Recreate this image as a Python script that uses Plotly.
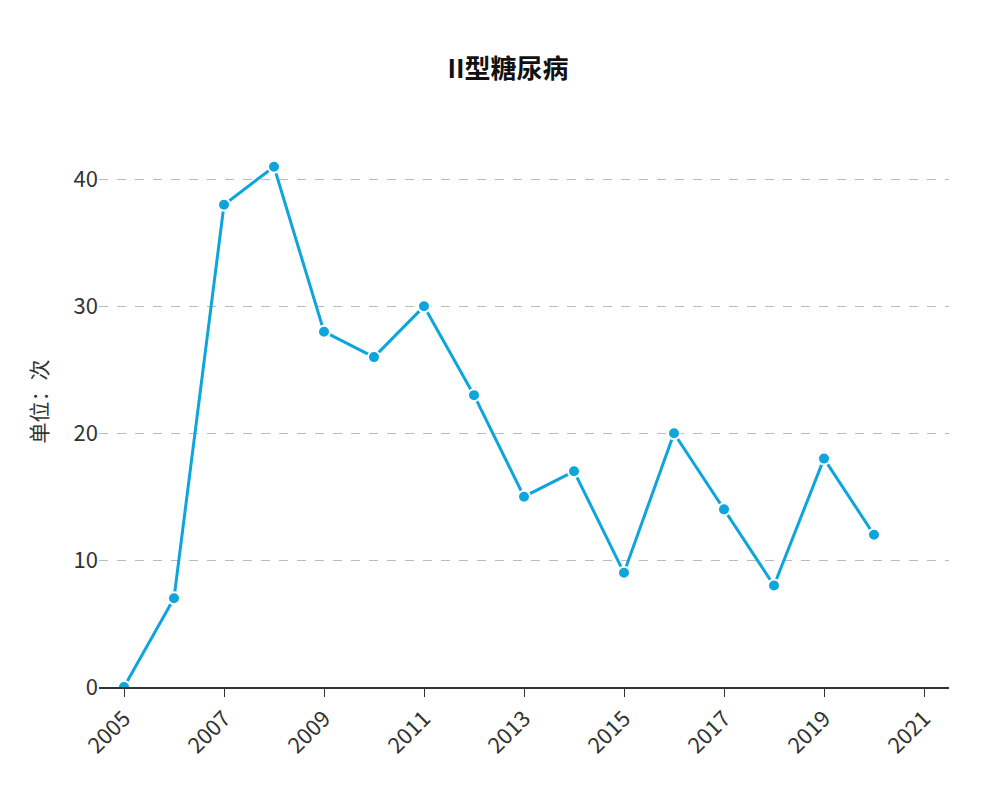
import plotly.graph_objects as go

years = list(range(2005, 2021))
values = [0, 7, 38, 41, 28, 26, 30, 23, 15, 17, 9, 20, 14, 8, 18, 12]
tick_vals = [2005, 2007, 2009, 2011, 2013, 2015, 2017, 2019, 2021]

fig = go.Figure(go.Scatter(
    x=years, y=values, mode="lines+markers",
    line=dict(color="#0ea5dc", width=3),
    marker=dict(size=12, color="#0ea5dc", line=dict(color="white", width=2)),
))
fig.update_layout(
    width=1000, height=800, plot_bgcolor="white", paper_bgcolor="white",
    font=dict(family="Noto Sans CJK SC", size=22, color="#333"),
    title=dict(text="<b>II型糖尿病</b>", x=0.5, y=0.935, font=dict(size=26, color="#111")),
    margin=dict(l=91, r=59, t=108, b=121),
    showlegend=False,
)
fig.update_xaxes(range=[2004.5, 2021.5], tickvals=tick_vals, tickangle=-45,
                 showgrid=False, showline=True, linecolor="#333", linewidth=2,
                 ticks="outside", ticklen=8, tickcolor="#333", automargin=False)
fig.update_yaxes(range=[0, 45], tickvals=[0, 10, 20, 30, 40], showgrid=True,
                 gridcolor="#bbbbbb", griddash="dash", zeroline=False, automargin=False,
                 title=dict(text="单位：次", font=dict(size=21), standoff=20), ticksuffix="  ")
fig.write_html("out.html")
